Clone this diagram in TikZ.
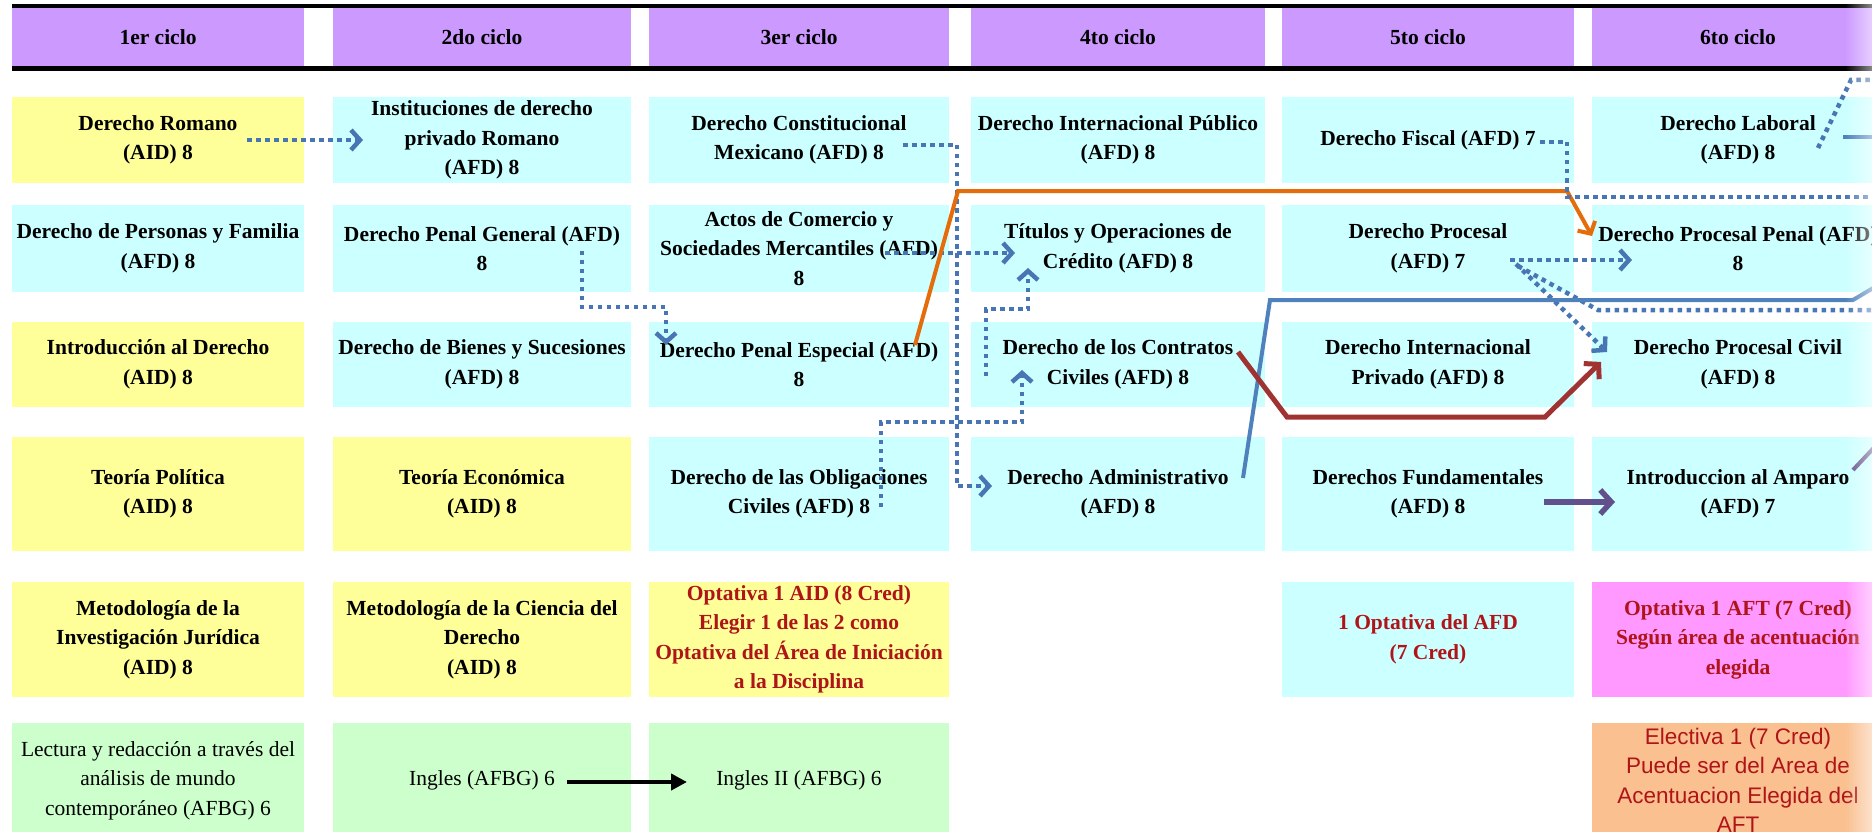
\documentclass[tikz,border=0pt]{standalone}
\usepackage{fontspec}
\setmainfont{Liberation Serif}
\newfontfamily\arialfont{Liberation Sans}
\usetikzlibrary{arrows.meta,calc,fadings}
\definecolor{hdrc}{RGB}{204,153,255}
\definecolor{cy}{RGB}{204,255,255}
\definecolor{yl}{RGB}{255,255,153}
\definecolor{gr}{RGB}{204,255,204}
\definecolor{pk}{RGB}{255,153,255}
\definecolor{pe}{RGB}{250,192,144}
\definecolor{redtxt}{RGB}{175,20,25}
\definecolor{dotblue}{RGB}{72,118,180}
\definecolor{solblue}{RGB}{79,129,189}
\definecolor{orangeln}{RGB}{228,108,10}
\definecolor{redln}{RGB}{160,50,50}
\definecolor{purpln}{RGB}{96,80,140}
\newcommand\cellfont{\fontsize{21.5pt}{29.5pt}\selectfont\bfseries}
\newcommand\regfont{\fontsize{21.5pt}{29.5pt}\selectfont}
\newcommand\elecfont{\arialfont\fontsize{22.5pt}{29.5pt}\selectfont}
\tikzset{
  cell/.style={inner sep=0pt, outer sep=0pt, align=center, font=\cellfont},
  hdrcell/.style={cell, fill=hdrc, minimum height=58pt},
  w1/.style={minimum width=292pt}, w2/.style={minimum width=298pt},
  w3/.style={minimum width=300pt}, w4/.style={minimum width=294pt},
  w5/.style={minimum width=292pt}, w6/.style={minimum width=292pt},
  hA/.style={minimum height=86pt}, hB/.style={minimum height=87pt},
  hC/.style={minimum height=85pt}, hD/.style={minimum height=114pt},
  hE/.style={minimum height=115pt}, hF/.style={minimum height=115pt},
  redtext/.style={text=redtxt},
  regtext/.style={font=\regfont},
  electext/.style={font=\elecfont, text=redtxt},
  dotline/.style={draw=dotblue, line width=4.5pt, dash pattern=on 4.5pt off 4.5pt, line cap=butt},
  dotarrow/.style={dotline, -{Straight Barb[length=9pt,width=20pt]}},
  orangearrow/.style={draw=orangeln, line width=4pt, -{Straight Barb[length=9pt,width=20pt]}},
  bluesolid/.style={draw=solblue, line width=4pt},
  redarrow/.style={draw=redln, line width=5pt, -{Straight Barb[length=10pt,width=22pt]}},
  purparrow/.style={draw=purpln, line width=5.5pt, -{Straight Barb[length=11pt,width=24pt]}},
  purpline/.style={draw=purpln, line width=4pt},
  blackarrow/.style={draw=black, line width=4pt, -{Triangle[length=16pt,width=16pt]}}
}
\begin{document}
\begin{tikzpicture}[x=1pt,y=-1pt]
\useasboundingbox (0,0) rectangle (1872,832);
\fill[white] (0,0) rectangle (1872,832);
% header
\node[hdrcell,w1] (h1) at (158,37) {1er ciclo};
\node[hdrcell,w2] (h2) at (482,37) {2do ciclo};
\node[hdrcell,w3] (h3) at (799,37) {3er ciclo};
\node[hdrcell,w4] (h4) at (1118,37) {4to ciclo};
\node[hdrcell,w5] (h5) at (1428,37) {5to ciclo};
\node[hdrcell,w6] (h6) at (1738,37) {6to ciclo};
\draw[line width=4pt] (12,6) -- (1885,6);
\draw[line width=5pt] (12,69) -- (1885,69);
% row 1
\node[cell,w1,hA,fill=yl] (r1c1) at (158,140) {Derecho Romano\\(AID) 8};
\node[cell,w2,hA,fill=cy] (r1c2) at (482,140) {Instituciones de derecho\\privado Romano\\(AFD) 8};
\node[cell,w3,hA,fill=cy] (r1c3) at (799,140) {Derecho Constitucional\\Mexicano (AFD) 8};
\node[cell,w4,hA,fill=cy] (r1c4) at (1118,140) {Derecho Internacional Público\\(AFD) 8};
\node[cell,w5,hA,fill=cy] (r1c5) at (1428,140) {Derecho Fiscal (AFD) 7};
\node[cell,w6,hA,fill=cy] (r1c6) at (1738,140) {Derecho Laboral\\(AFD) 8};
% row 2
\node[cell,w1,hB,fill=cy] (r2c1) at (158,248.5) {Derecho de Personas y Familia\\(AFD) 8};
\node[cell,w2,hB,fill=cy] (r2c2) at (482,248.5) {Derecho Penal General (AFD)\\8};
\node[cell,w3,hB,fill=cy] (r2c3) at (799,248.5) {Actos de Comercio y\\Sociedades Mercantiles (AFD)\\8};
\node[cell,w4,hB,fill=cy] (r2c4) at (1118,248.5) {Títulos y Operaciones de\\Crédito (AFD) 8};
\node[cell,w5,hB,fill=cy] (r2c5) at (1428,248.5) {Derecho Procesal\\(AFD) 7};
\node[cell,w6,hB,fill=cy] (r2c6) at (1738,248.5) {Derecho Procesal Penal (AFD)\\8};
% row 3
\node[cell,w1,hC,fill=yl] (r3c1) at (158,364.5) {Introducción al Derecho\\(AID) 8};
\node[cell,w2,hC,fill=cy] (r3c2) at (482,364.5) {Derecho de Bienes y Sucesiones\\(AFD) 8};
\node[cell,w3,hC,fill=cy] (r3c3) at (799,364.5) {Derecho Penal Especial (AFD)\\8};
\node[cell,w4,hC,fill=cy] (r3c4) at (1118,364.5) {Derecho de los Contratos\\Civiles (AFD) 8};
\node[cell,w5,hC,fill=cy] (r3c5) at (1428,364.5) {Derecho Internacional\\Privado (AFD) 8};
\node[cell,w6,hC,fill=cy] (r3c6) at (1738,364.5) {Derecho Procesal Civil\\(AFD) 8};
% row 4
\node[cell,w1,hD,fill=yl] (r4c1) at (158,494) {Teoría Política\\(AID) 8};
\node[cell,w2,hD,fill=yl] (r4c2) at (482,494) {Teoría Económica\\(AID) 8};
\node[cell,w3,hD,fill=cy] (r4c3) at (799,494) {Derecho de las Obligaciones\\Civiles (AFD) 8};
\node[cell,w4,hD,fill=cy] (r4c4) at (1118,494) {Derecho Administrativo\\(AFD) 8};
\node[cell,w5,hD,fill=cy] (r4c5) at (1428,494) {Derechos Fundamentales\\(AFD) 8};
\node[cell,w6,hD,fill=cy] (r4c6) at (1738,494) {Introduccion al Amparo\\(AFD) 7};
% row 5
\node[cell,w1,hE,fill=yl] (r5c1) at (158,639.5) {Metodología de la\\Investigación Jurídica\\(AID) 8};
\node[cell,w2,hE,fill=yl] (r5c2) at (482,639.5) {Metodología de la Ciencia del\\Derecho\\(AID) 8};
\node[cell,w3,hE,fill=yl,redtext] (r5c3) at (799,639.5) {Optativa 1 AID (8 Cred)\\Elegir 1 de las 2 como\\Optativa del Área de Iniciación\\a la Disciplina};
\node[cell,w5,hE,fill=cy,redtext] (r5c5) at (1428,639.5) {1 Optativa del AFD\\(7 Cred)};
\node[cell,w6,hE,fill=pk,redtext] (r5c6) at (1738,639.5) {Optativa 1 AFT (7 Cred)\\Según área de acentuación\\elegida};
% row 6
\node[cell,w1,hF,fill=gr,regtext] (r6c1) at (158,780.5) {Lectura y redacción a través del\\análisis de mundo\\contemporáneo (AFBG) 6};
\node[cell,w2,hF,fill=gr,regtext] (r6c2) at (482,780.5) {Ingles (AFBG) 6};
\node[cell,w3,hF,fill=gr,regtext] (r6c3) at (799,780.5) {Ingles II (AFBG) 6};
\node[cell,w6,hF,fill=pe,electext] (r6c6) at (1738,780.5) {Electiva 1 (7 Cred)\\Puede ser del Area de\\Acentuacion Elegida del\\AFT};
% free ends at right edge
\coordinate (outfiscal) at (1885,197);
\coordinate (outproc) at (1885,310);
\coordinate (outblue) at (1885,281);
\coordinate (outlab) at (1885,80);
\coordinate (outlabsol) at (1885,137);
\coordinate (outamp) at (1885,436);
% connectors
\draw[dotarrow] ($(r1c1)+(89,0)$) -- ($(r1c2)+(-119,0)$);
\draw[dotarrow] ($(r1c3)+(104,5)$) -| ($(r4c4)+(-161,-8)$) -- ($(r4c4)+(-126,-8)$);
\draw[dotarrow] ($(r2c2)+(100,2)$) |- ($(r3c3)+(-133,-57.5)$) -- ($(r3c3)+(-133,-19.5)$);
\draw[dotarrow] ($(r2c3)+(86,4.5)$) -- ($(r2c4)+(-103,4.5)$);
\draw[dotarrow] ($(r4c3)+(82,13)$) |- ($(r3c4)+(-96,57.5)$) -- ($(r3c4)+(-96,5.5)$);
\draw[dotarrow] ($(r3c4)+(-132,11.5)$) |- ($(r2c4)+(-90,60.5)$) -- ($(r2c4)+(-90,19.5)$);
\draw[orangearrow] ($(r3c3)+(116,-19.5)$) -- ($(r2c3)+(159,-57.5)$) -- ($(r2c6)+(-171,-57.5)$) -- ($(r2c6)+(-146,-12.5)$);
\draw[dotline] ($(r1c5)+(112,2)$) -| ($(r2c6)+(-171,-51.5)$) -- (outfiscal);
\draw[dotarrow] ($(r2c5)+(82,11.5)$) -- ($(r2c6)+(-106,11.5)$);
\draw[dotarrow] ($(r2c5)+(88,15.5)$) -- ($(r3c6)+(-131,-12.5)$);
\draw[dotline] ($(r2c5)+(90,17.5)$) -- ($(r3c6)+(-140,-54.5)$) -- (outproc);
\draw[bluesolid] ($(r4c4)+(125,-16)$) -- ($(r4c4)+(152,-194)$) -- ($(r3c6)+(115,-64.5)$) -- (outblue);
\draw[redarrow] ($(r3c4)+(120,-12.5)$) -- ($(r3c5)+(-141,52.5)$) -- ($(r3c5)+(117,52.5)$) -- ($(r3c6)+(-137,-2.5)$);
\draw[purparrow] ($(r4c5)+(116,8)$) -- ($(r4c6)+(-123,8)$);
\draw[blackarrow] ($(r6c2)+(85,1.5)$) -- ($(r6c3)+(-112,1.5)$);
\draw[dotline] ($(r1c6)+(80,8)$) -- ($(r1c6)+(113,-60)$) -- (outlab);
\draw[bluesolid] ($(r1c6)+(105,-3)$) -- (outlabsol);
\draw[purpline] ($(r4c6)+(115,-24)$) -- (outamp);
% right edge fade
\fill[white,path fading=west] (1845,-5) rectangle (1895,840);
\end{tikzpicture}
\end{document}
